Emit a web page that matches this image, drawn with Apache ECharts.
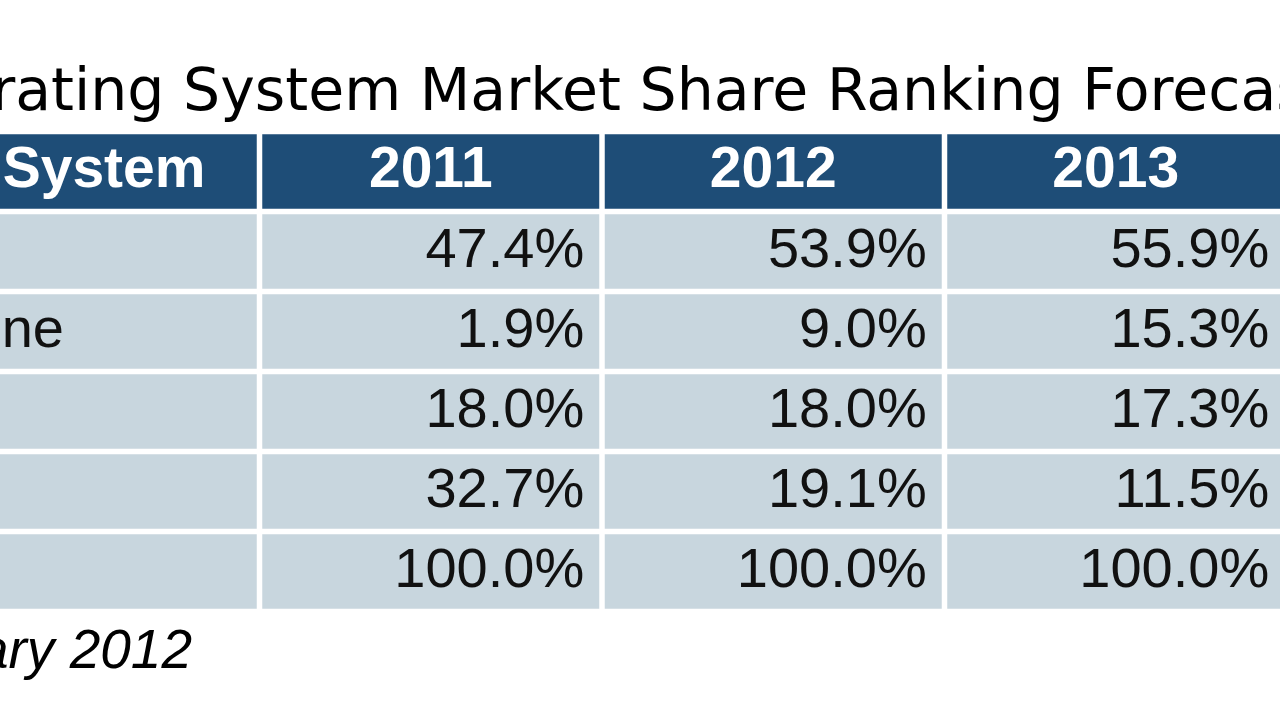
<!DOCTYPE html>
<html>
<head>
<meta charset="utf-8">
<script src="https://cdn.jsdelivr.net/npm/echarts@6/dist/echarts.min.js"></script>
<style>html,body{margin:0;padding:0;background:#fff;}#c{width:1280px;height:722px;}</style>
</head>
<body>
<div id="c"></div>
<script>
// ---- data ----
const titleText = 'Operating System Market Share Ranking Forecast';
const sourceText = 'February 2012';
const columns = ['Operating System', '2011', '2012', '2013'];
const systems = ['Android', 'Windows Phone', 'iOS', 'Others', 'Total'];
const share2011 = [47.4, 1.9, 18.0, 32.7, 100.0];
const share2012 = [53.9, 9.0, 18.0, 19.1, 100.0];
const share2013 = [55.9, 15.3, 17.3, 11.5, 100.0];

// ---- build table cells ----
const yearSeries = [share2011, share2012, share2013];
const rowsCat = ['header'].concat(systems);
const cells = [];   // [col, row]
const cellText = [];
columns.forEach(function (c, ci) { cells.push([ci, 0]); cellText.push(c); });
systems.forEach(function (s, ri) {
  cells.push([0, ri + 1]); cellText.push(s);
  yearSeries.forEach(function (arr, yi) {
    cells.push([yi + 1, ri + 1]); cellText.push(arr[ri].toFixed(1) + '%');
  });
});

const HEADER_BG = '#1e4d77';
const BODY_BG = '#c8d6de';
const GAP = 5.5;
const FIRST_SPAN = 1.74;

const chart = echarts.init(document.getElementById('c'), null, {renderer: 'canvas'});
chart.setOption({
  backgroundColor: '#ffffff',
  animation: false,
  grid: {left: 0, right: 0, top: 131.5, bottom: 110.5, containLabel: false},
  xAxis: {type: 'value', min: -0.2577, max: 3.4796, show: false},
  yAxis: {type: 'category', data: rowsCat, inverse: true, show: false},
  graphic: [
    {type: 'text', x: -128, y: 95, silent: true,
     style: {text: titleText, fill: '#000', font: 'normal 58.5px "DejaVu Sans"', textAlign: 'left', textVerticalAlign: 'middle'}},
    {type: 'text', x: 192, y: 653, silent: true,
     style: {text: sourceText, fill: '#000', font: 'italic 55px "Liberation Sans"', textAlign: 'right', textVerticalAlign: 'middle'}}
  ],
  series: [{
    type: 'custom',
    coordinateSystem: 'cartesian2d',
    clip: false,
    data: cells,
    encode: {x: 0, y: 1},
    renderItem: function (params, api) {
      const col = api.value(0), row = api.value(1);
      const c = api.coord([col, row]);
      const s = api.size([1, 1]);
      let left = c[0] - s[0] / 2 + GAP / 2;
      const right = c[0] + s[0] / 2 - GAP / 2;
      if (col === 0) left = c[0] + s[0] / 2 - s[0] * FIRST_SPAN + GAP / 2;
      const top = c[1] - s[1] / 2 + GAP / 2;
      const bottom = c[1] + s[1] / 2 - GAP / 2;
      const txt = cellText[params.dataIndex];
      const isHead = row === 0;
      let tx, align;
      if (isHead) { tx = (left + right) / 2; align = 'center'; }
      else if (col === 0) { tx = left - 7; align = 'left'; }
      else { tx = right - 15; align = 'right'; }
      return {
        type: 'group',
        children: [
          {type: 'rect', shape: {x: left, y: top, width: right - left, height: bottom - top},
           style: {fill: isHead ? HEADER_BG : BODY_BG}},
          {type: 'text', x: tx, y: (top + bottom) / 2,
           style: {text: txt, fill: isHead ? '#ffffff' : '#111111',
                   font: isHead ? 'bold 57px "Liberation Sans"' : 'normal 56px "Liberation Sans"',
                   textAlign: align, textVerticalAlign: 'middle'}}
        ]
      };
    }
  }]
});
</script>
</body>
</html>
